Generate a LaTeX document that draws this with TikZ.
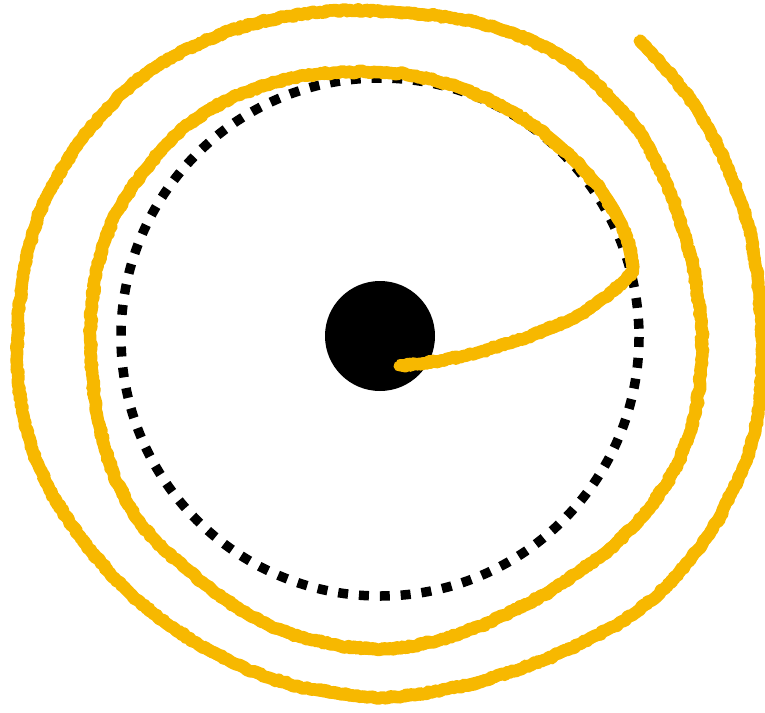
\documentclass[tikz,border=0pt]{standalone}
\usepackage{tikz}
\usetikzlibrary{decorations.pathmorphing}
\definecolor{chalkyellow}{RGB}{247,184,0}

\begin{document}
\begin{tikzpicture}[
  x=1pt, y=-1pt,
  orbit/.style={draw=black, line width=9.5pt, dash pattern=on 10pt off 10.9pt},
  core/.style={fill=black},
  trail/.style={draw=chalkyellow, line width=11pt, line cap=round, line join=round},
  rough/.style={draw=chalkyellow, line width=12.5pt, line join=round, decorate,
    decoration={random steps, segment length=2.5pt, amplitude=1.2pt}}
]
\useasboundingbox (0,0) rectangle (765,712);
\coordinate (centre) at (380,337);
\draw[orbit] (centre) circle[radius=259];
\fill[core] (380,336) circle[radius=55];
\draw[rough] plot coordinates {(399,366) (440,361) (480,352) (528,337) (575,318) (608,296)
  (633,272) (630,248) (622,225) (600,188) (572,157) (540,130) (516,114) (490,100) (461,88)
  (430,79) (405,74) (380,72) (340,72) (300,76) (266,85) (233,97) (207,111) (183,128)
  (162,149) (143,172) (127,195) (113,219) (104,243) (97,268) (92,301) (90,335) (92,375)
  (97,415) (104,446) (114,476) (127,502) (143,527) (164,550) (188,570) (213,591) (240,610)
  (269,625) (300,637) (340,646) (380,650) (414,646) (447,638) (481,626) (513,611)
  (548,593) (580,571) (608,551) (633,527) (651,506) (667,483) (679,461) (688,438)
  (696,411) (700,383) (702,357) (702,330) (697,290) (693,265) (686,240) (678,213)
  (668,187) (656,161) (642,135) (627,116) (610,98) (590,77) (567,59) (541,45) (513,33)
  (481,23) (447,17) (414,13) (380,11) (350,10) (320,12) (290,16) (260,22) (229,31)
  (200,43) (172,57) (145,74) (121,94) (100,117) (80,141) (63,167) (49,192) (37,219)
  (28,250) (22,283) (18,319) (17,355) (18,383) (22,410) (28,436) (37,462) (50,491)
  (67,518) (87,547) (110,573) (137,600) (167,624) (199,645) (233,663) (266,677)
  (300,687) (340,694) (380,698) (414,695) (447,689) (481,682) (513,671) (547,659)
  (580,644) (615,626) (647,604) (674,579) (697,551) (717,522) (733,490) (746,462)
  (755,433) (760,400) (762,367) (763,343) (761,320) (758,280) (752,240) (743,207)
  (731,175) (718,146) (702,118) (688,96) (672,76) (656,58) (639,41)};
\draw[trail] plot[smooth, tension=0.6] coordinates {(399,366) (480,352) (575,318) (633,272)}
  -- plot[smooth, tension=0.6] coordinates {(633,272) (622,225) (600,188) (572,157) (540,130) (490,100)
     (430,79) (380,72) (300,76) (233,97) (183,128) (143,172) (113,219) (97,268) (90,335)
     (97,415) (114,476) (143,527) (188,570) (240,610) (300,637) (380,650) (447,638)
     (513,611) (580,571) (633,527) (667,483) (688,438) (700,383) (702,330) (697,290)
     (686,240) (668,187) (642,135) (610,98) (567,59) (513,33) (447,17) (380,11) (320,12)
     (260,22) (200,43) (145,74) (100,117) (63,167) (37,219) (22,283) (17,355) (22,410)
     (37,462) (67,518) (110,573) (167,624) (233,663) (300,687) (380,698) (447,689)
     (513,671) (580,644) (647,604) (697,551) (733,490) (755,433) (762,367) (761,320)
     (752,240) (731,175) (702,118) (672,76) (639,41)};
\end{tikzpicture}
\end{document}
